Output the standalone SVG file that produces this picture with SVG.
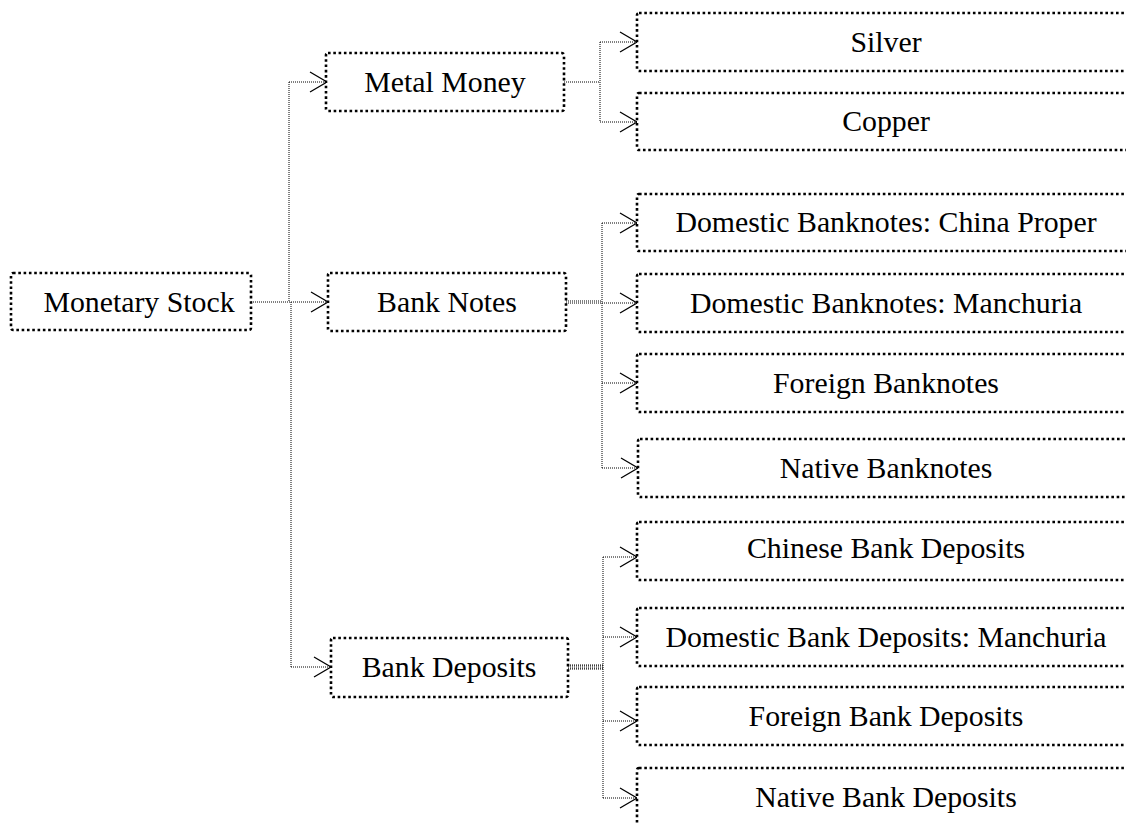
<svg xmlns="http://www.w3.org/2000/svg" width="1126" height="825" viewBox="0 0 1126 825" font-family="'Liberation Serif', 'Times New Roman', Times, serif">
<style>
.box{fill:#fff;stroke:#000;stroke-width:2.6;stroke-dasharray:2.6 2.7}
text{font-family:'Liberation Serif','Times New Roman',Times,serif;font-size:29.8px;fill:#000;text-anchor:middle}
.c{fill:none;stroke:#000;stroke-width:1;stroke-dasharray:1 1}
.a{fill:none;stroke:#000;stroke-width:1.3}
</style>
<rect width="1126" height="825" fill="#fff"/>
<g id="connectors">
<path class="c" d="M251,302H289"/>
<path class="c" d="M289,82V302"/>
<path class="c" d="M291,302V667"/>
<path class="c" d="M289,82H327M289,302H327M291,667H331"/>
<path class="a" d="M310,72L327,82L310,92"/>
<path class="a" d="M311,292L328,302L311,312"/>
<path class="a" d="M314,657L331,667L314,677"/>
<path class="c" d="M564,82H600"/>
<path class="c" d="M600,42V122"/>
<path class="c" d="M600,42H637M600,122H637"/>
<path class="a" d="M620,32L637,42L620,52"/>
<path class="a" d="M620,112L637,122L620,132"/>
<path class="c" d="M566,301H602M566,303H602"/>
<path class="c" d="M602,223V468"/>
<path class="c" d="M602,223H637M602,303H637M602,383H637M602,468H638"/>
<path class="a" d="M620,213L637,223L620,233"/>
<path class="a" d="M620,293L637,303L620,313"/>
<path class="a" d="M620,373L637,383L620,393"/>
<path class="a" d="M621,458L638,468L621,478"/>
<path class="c" d="M568,665H603M568,666H603M568,668H603M568,669H603"/>
<path class="c" d="M603,557V798"/>
<path class="c" d="M603,557H637M603,637H637M603,721H637M603,798H637"/>
<path class="a" d="M620,547L637,557L620,567"/>
<path class="a" d="M620,627L637,637L620,647"/>
<path class="a" d="M620,711L637,721L620,731"/>
<path class="a" d="M620,788L637,798L620,808"/>
</g>
<g id="monetary-stock"><rect class="box" x="11" y="273" width="240" height="57" rx="2"/><text x="139" y="312">Monetary Stock</text></g>
<g id="metal-money"><rect class="box" x="326" y="53" width="238" height="58" rx="2"/><text x="445" y="92">Metal Money</text></g>
<g id="bank-notes"><rect class="box" x="328" y="273" width="238" height="58" rx="2"/><text x="447" y="312">Bank Notes</text></g>
<g id="bank-deposits"><rect class="box" x="331" y="638" width="237" height="59" rx="2"/><text x="449" y="677">Bank Deposits</text></g>
<g id="silver"><rect class="box" x="637" y="13" width="500" height="58" rx="2"/><text x="886" y="52">Silver</text></g>
<g id="copper"><rect class="box" x="637" y="93" width="500" height="57" rx="2"/><text x="886" y="131">Copper</text></g>
<g id="dom-banknotes-china"><rect class="box" x="637" y="194" width="500" height="57" rx="2"/><text x="886" y="232">Domestic Banknotes: China Proper</text></g>
<g id="dom-banknotes-manchuria"><rect class="box" x="637" y="274" width="500" height="58" rx="2"/><text x="886" y="313">Domestic Banknotes: Manchuria</text></g>
<g id="foreign-banknotes"><rect class="box" x="637" y="354" width="500" height="58" rx="2"/><text x="886" y="393">Foreign Banknotes</text></g>
<g id="native-banknotes"><rect class="box" x="638" y="439" width="500" height="58" rx="2"/><text x="886" y="478">Native Banknotes</text></g>
<g id="chinese-bank-deposits"><rect class="box" x="637" y="522" width="500" height="58" rx="2"/><text x="886" y="558">Chinese Bank Deposits</text></g>
<g id="dom-bank-deposits-manchuria"><rect class="box" x="637" y="608" width="500" height="58" rx="2"/><text x="886" y="647">Domestic Bank Deposits: Manchuria</text></g>
<g id="foreign-bank-deposits"><rect class="box" x="637" y="687" width="500" height="58" rx="2"/><text x="886" y="726">Foreign Bank Deposits</text></g>
<g id="native-bank-deposits"><rect class="box" x="637" y="768" width="500" height="60" rx="2"/><text x="886" y="807">Native Bank Deposits</text></g>
</svg>
